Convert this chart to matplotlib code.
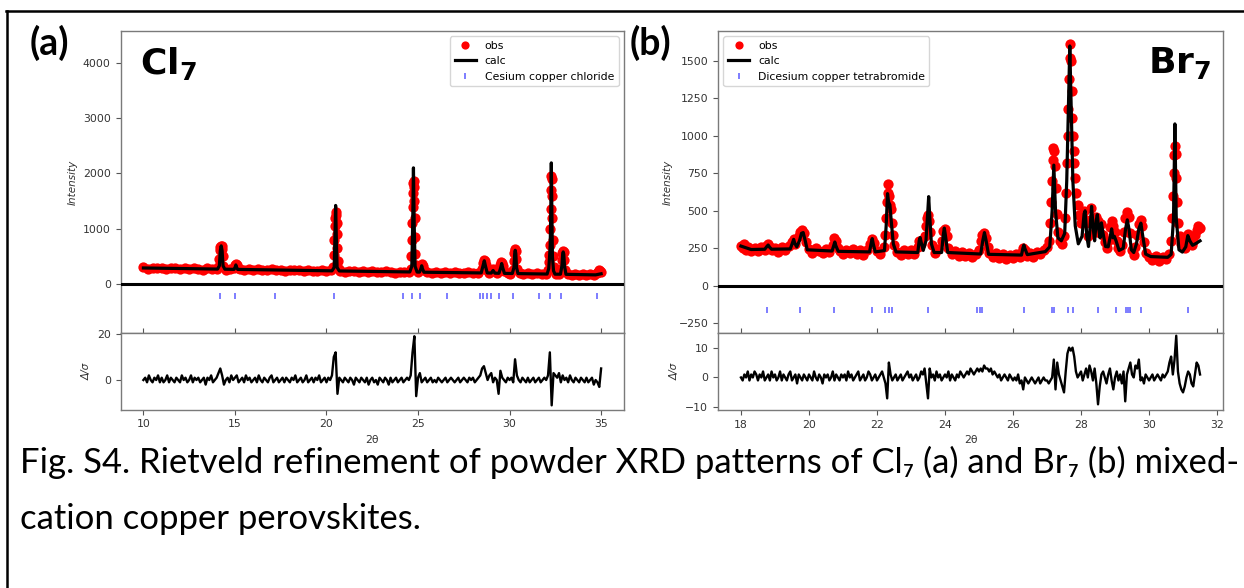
import numpy as np
import matplotlib
matplotlib.use("Agg")
import matplotlib.pyplot as plt
from matplotlib.lines import Line2D

# ---------------- (a) Cl7 ----------------
# observed points (2theta, counts)
cl_obs = [
    (10.00, 300), (10.25, 275), (10.50, 296), (10.75, 281), (11.00, 292), (11.25, 270),
    (11.50, 289), (11.75, 298), (12.00, 276), (12.25, 287), (12.50, 266), (12.75, 290),
    (13.00, 279), (13.25, 262), (13.50, 284), (13.75, 271), (14.00, 280),
    (14.10, 300), (14.15, 450), (14.18, 620), (14.21, 670), (14.24, 690), (14.27, 680),
    (14.30, 640), (14.33, 500), (14.37, 330),
    (14.50, 262), (14.75, 279), (14.95, 290), (15.00, 340), (15.05, 370), (15.10, 345), (15.15, 285),
    (15.25, 270), (15.50, 256), (15.75, 275), (16.00, 251), (16.25, 268), (16.50, 262),
    (16.75, 245), (17.00, 266), (17.25, 262), (17.50, 250), (17.75, 241), (18.00, 258),
    (18.25, 246), (18.50, 262), (18.75, 237), (19.00, 251), (19.25, 244), (19.50, 232),
    (19.75, 250), (20.00, 229), (20.25, 247),
    (20.36, 300), (20.40, 520), (20.43, 800), (20.45, 1050), (20.47, 1200), (20.50, 1300),
    (20.53, 1250), (20.55, 1100), (20.57, 900), (20.59, 650), (20.62, 420), (20.66, 280),
    (20.75, 240), (21.00, 224), (21.25, 241), (21.50, 229), (21.75, 220), (22.00, 238),
    (22.25, 215), (22.50, 232), (22.75, 226), (23.00, 212), (23.25, 230), (23.50, 218),
    (23.75, 205), (24.00, 226), (24.25, 214), (24.50, 222),
    (24.60, 280), (24.64, 500), (24.66, 800), (24.68, 1100), (24.70, 1400), (24.72, 1650),
    (24.74, 1820), (24.76, 1870), (24.78, 1750), (24.80, 1500), (24.82, 1200), (24.84, 850),
    (24.86, 550), (24.89, 350),
    (25.00, 210), (25.10, 260), (25.15, 330), (25.20, 360), (25.25, 330), (25.30, 250),
    (25.50, 216), (25.75, 200), (26.00, 219), (26.25, 204), (26.50, 212), (26.75, 196),
    (27.00, 214), (27.25, 200), (27.50, 193), (27.75, 210), (28.00, 197), (28.25, 206),
    (28.50, 270), (28.55, 380), (28.60, 430), (28.65, 420), (28.70, 350), (28.75, 260),
    (28.90, 205), (29.05, 250), (29.10, 270), (29.15, 240), (29.30, 190),
    (29.45, 260), (29.50, 340), (29.55, 390), (29.60, 380), (29.65, 320), (29.70, 240),
    (29.90, 200), (30.05, 186),
    (30.18, 260), (30.22, 420), (30.25, 560), (30.28, 620), (30.31, 630), (30.34, 590),
    (30.37, 450), (30.41, 280),
    (30.55, 195), (30.75, 180), (31.00, 197), (31.25, 176), (31.50, 190), (31.75, 178), (32.00, 188),
    (32.10, 260), (32.14, 400), (32.17, 520), (32.20, 700), (32.22, 1000), (32.24, 1350),
    (32.26, 1700), (32.28, 1960), (32.30, 1900), (32.32, 1600), (32.34, 1200), (32.36, 800),
    (32.38, 500), (32.41, 300),
    (32.55, 180), (32.70, 174),
    (32.80, 280), (32.84, 440), (32.88, 560), (32.92, 590), (32.96, 570), (33.00, 430), (33.04, 260),
    (33.20, 178), (33.40, 165), (33.60, 182), (33.80, 160), (34.00, 176), (34.20, 164),
    (34.40, 178), (34.60, 168), (34.80, 190), (34.85, 220), (34.90, 255), (34.95, 235), (35.00, 210),
]

# calculated profile
cl_calc = [
    (10.00, 290), (14.05, 270), (14.15, 330), (14.20, 600), (14.25, 690), (14.30, 600),
    (14.35, 330), (14.45, 268), (14.95, 265), (15.02, 310), (15.05, 345), (15.08, 310),
    (15.15, 264), (20.30, 238), (20.42, 300), (20.46, 800), (20.50, 1420), (20.54, 800),
    (20.58, 300), (20.70, 236), (24.55, 218), (24.66, 320), (24.71, 1100), (24.75, 2100),
    (24.79, 1100), (24.84, 320), (24.95, 216), (25.08, 215), (25.16, 280), (25.20, 330),
    (25.24, 280), (25.32, 213), (28.45, 200), (28.55, 330), (28.62, 420), (28.68, 330),
    (28.78, 200), (29.00, 198), (29.10, 245), (29.20, 196), (29.42, 194), (29.52, 300),
    (29.57, 370), (29.62, 300), (29.72, 192), (30.15, 190), (30.24, 300), (30.28, 550),
    (30.31, 610), (30.34, 550), (30.38, 300), (30.46, 188), (32.05, 180), (32.14, 280),
    (32.19, 520), (32.22, 700), (32.25, 1300), (32.28, 2190), (32.31, 1300), (32.34, 500),
    (32.40, 240), (32.48, 178), (32.78, 177), (32.86, 330), (32.90, 540), (32.93, 580),
    (32.96, 540), (33.00, 330), (33.08, 175), (34.70, 165), (34.85, 175), (35.00, 185),
]

# Cesium copper chloride reflections
cl_refl = [14.17, 14.98, 17.19, 20.39, 24.19, 24.65, 25.13, 26.56, 28.38, 28.57, 28.77,
           28.97, 29.45, 30.20, 31.62, 32.19, 32.81, 34.80]

# difference curve (obs - calc)/sigma, 0.1 deg steps from 10
cl_diff_start, cl_diff_step = 10.0, 0.1
cl_diff = [
    0, 1, -1, 2, 0, -1, 1, 0, 2, -1,
    1, -1, 0, 2, -1, 1, 0, -1, 1, 0,
    -1, 2, 0, 1, -1, 0, 2, -1, 1, 0,
    1, -1, 0, 1, -2, 1, 0, 2, -1, 0,
    1, 3, 5, 2, -2, 0, 1, -1, 2, 0,
    1, 2, -1, 0, 1, -1, 2, 0, 1, -1,
    0, 1, -1, 2, 0, -1, 1, 0, -1, 1,
    2, -1, 0, 1, -1, 0, 1, -1, 1, 0,
    -1, 1, 0, 2, -1, 0, 1, -1, 0, 2,
    -1, 0, 1, -1, 1, 0, 2, -1, 0, 1,
    -1, 1, 0, 2, 10, 12, -6, 1, 0, -1,
    1, 0, -1, 1, 0, -2, 1, 0, -1, 1,
    0, -1, 1, -2, 0, 1, -1, 0, -2, 1,
    0, -1, 1, 0, -2, 1, -1, 0, 1, -1,
    0, 1, -1, 0, 1, 0, 2, 12, 19, -7,
    1, 3, -1, 0, 1, -1, 0, 1, -1, 0,
    -1, 1, 0, -1, 0, 1, -1, 0, 1, 0,
    -1, 0, 1, -1, 0, 1, 0, -1, 1, 0,
    1, -1, 0, 1, 2, 5, 6, 3, 0, 2,
    3, -1, 1, 0, -6, 4, 1, 0, -1, 1,
    0, 1, -1, 9, 2, 0, -1, 1, 0, -1,
    1, -1, 0, 1, -1, 0, 1, -1, 0, 1,
    0, 2, 12, -11, 3, 2, 1, 3, -1, 2,
    0, 1, -1, 2, 0, -1, 1, 0, -1, 1,
    0, -1, 1, -1, 0, 1, -2, 0, -1, -3,
    5,
]

# ---------------- (b) Br7 ----------------
br_obs = [
    (18.00, 265), (18.05, 250), (18.10, 278), (18.15, 241), (18.20, 262), (18.30, 235),
    (18.40, 255), (18.50, 232), (18.60, 258), (18.70, 240), (18.75, 268), (18.80, 282),
    (18.85, 260), (18.90, 238), (19.00, 251), (19.10, 228), (19.20, 259), (19.30, 242),
    (19.40, 265), (19.50, 290), (19.55, 312), (19.60, 280), (19.70, 330), (19.75, 362),
    (19.80, 375), (19.85, 352), (19.90, 290), (20.00, 245), (20.10, 222), (20.20, 250),
    (20.30, 231), (20.40, 218), (20.50, 246), (20.60, 226), (20.70, 275), (20.75, 318),
    (20.80, 300), (20.85, 255), (20.90, 232), (21.00, 212), (21.10, 240), (21.20, 220),
    (21.30, 248), (21.40, 215), (21.50, 236), (21.60, 208), (21.70, 242), (21.80, 280),
    (21.85, 310), (21.90, 285), (22.00, 230), (22.10, 215), (22.20, 260), (22.24, 340),
    (22.27, 450), (22.29, 560), (22.31, 620), (22.33, 680), (22.35, 600), (22.37, 540),
    (22.40, 510), (22.43, 420), (22.46, 340), (22.50, 270), (22.60, 228), (22.70, 205),
    (22.80, 236), (22.90, 214), (23.00, 240), (23.10, 210), (23.20, 262), (23.25, 300),
    (23.30, 280), (23.40, 330), (23.45, 400), (23.48, 450), (23.51, 470), (23.54, 430),
    (23.57, 360), (23.62, 270), (23.70, 220), (23.80, 245), (23.90, 300), (23.95, 365),
    (24.00, 380), (24.05, 330), (24.10, 250), (24.20, 210), (24.30, 232), (24.40, 200),
    (24.50, 225), (24.60, 198), (24.70, 220), (24.80, 190), (24.90, 215), (25.00, 240),
    (25.05, 300), (25.10, 340), (25.15, 352), (25.20, 320), (25.25, 262), (25.30, 220),
    (25.40, 195), (25.50, 222), (25.60, 186), (25.70, 210), (25.80, 180), (25.90, 205),
    (26.00, 185), (26.10, 212), (26.20, 190), (26.25, 225), (26.30, 255), (26.35, 240),
    (26.40, 200), (26.50, 218), (26.60, 195), (26.70, 228), (26.80, 210), (26.90, 242),
    (27.00, 260), (27.05, 300), (27.10, 420), (27.13, 560), (27.15, 700), (27.17, 840),
    (27.19, 920), (27.21, 900), (27.23, 800), (27.25, 650), (27.28, 480), (27.32, 360),
    (27.38, 300), (27.45, 280), (27.50, 330), (27.54, 450), (27.57, 620), (27.59, 820),
    (27.61, 1000), (27.63, 1180), (27.65, 1380), (27.67, 1520), (27.68, 1610), (27.70, 1500),
    (27.72, 1300), (27.74, 1120), (27.76, 1000), (27.78, 900), (27.80, 820), (27.83, 720),
    (27.86, 620), (27.90, 540), (27.95, 470), (28.00, 420), (28.05, 450), (28.10, 500),
    (28.15, 420), (28.20, 330), (28.25, 440), (28.30, 520), (28.35, 430), (28.40, 360),
    (28.45, 460), (28.50, 430), (28.55, 350), (28.60, 410), (28.65, 340), (28.70, 290),
    (28.75, 250), (28.80, 300), (28.85, 390), (28.90, 430), (28.95, 400), (29.00, 360),
    (29.05, 300), (29.10, 250), (29.15, 235), (29.20, 270), (29.25, 360), (29.30, 450),
    (29.35, 490), (29.40, 460), (29.45, 350), (29.50, 240), (29.55, 205), (29.60, 260),
    (29.65, 340), (29.70, 410), (29.75, 440), (29.80, 400), (29.85, 290), (29.90, 220),
    (30.00, 195), (30.10, 175), (30.20, 200), (30.30, 168), (30.40, 192), (30.50, 178),
    (30.60, 210), (30.65, 300), (30.68, 450), (30.70, 600), (30.72, 750), (30.74, 870),
    (30.76, 930), (30.78, 880), (30.80, 720), (30.82, 560), (30.85, 420), (30.90, 330),
    (30.95, 280), (31.00, 320), (31.05, 250), (31.10, 300), (31.15, 345), (31.20, 310),
    (31.25, 270), (31.30, 300), (31.35, 340), (31.40, 370), (31.45, 400), (31.50, 385),
]

br_calc = [
    (18.00, 265), (18.30, 242), (18.70, 244), (18.76, 262), (18.80, 272), (18.84, 258),
    (18.90, 244), (19.45, 246), (19.52, 290), (19.55, 310), (19.58, 285), (19.64, 260),
    (19.72, 300), (19.78, 350), (19.83, 355), (19.88, 310), (19.95, 240), (20.68, 232),
    (20.73, 270), (20.76, 292), (20.79, 268), (20.86, 230), (21.78, 226), (21.83, 285),
    (21.86, 315), (21.89, 280), (21.95, 226), (22.22, 235), (22.27, 400), (22.31, 615),
    (22.34, 560), (22.38, 540), (22.42, 430), (22.48, 280), (22.56, 226), (23.20, 222),
    (23.24, 300), (23.27, 322), (23.30, 290), (23.36, 236), (23.44, 300), (23.49, 480),
    (23.52, 595), (23.55, 470), (23.60, 280), (23.68, 222), (23.90, 222), (23.95, 340),
    (23.98, 385), (24.01, 340), (24.08, 222), (25.05, 212), (25.11, 300), (25.16, 355),
    (25.21, 300), (25.28, 210), (26.25, 205), (26.29, 250), (26.32, 272), (26.35, 248),
    (26.42, 208), (26.95, 228), (27.08, 260), (27.15, 500), (27.20, 805), (27.25, 500),
    (27.32, 320), (27.42, 300), (27.52, 350), (27.58, 700), (27.63, 1200), (27.67, 1600),
    (27.71, 1200), (27.76, 700), (27.83, 400), (27.92, 280), (28.03, 330), (28.09, 480),
    (28.12, 500), (28.17, 330), (28.22, 262), (28.27, 400), (28.31, 530), (28.36, 380),
    (28.40, 300), (28.45, 440), (28.48, 475), (28.52, 380), (28.56, 320), (28.60, 420),
    (28.64, 360), (28.72, 262), (28.80, 260), (28.86, 330), (28.90, 380), (28.94, 320),
    (28.98, 330), (29.03, 300), (29.12, 236), (29.24, 250), (29.31, 380), (29.36, 440),
    (29.41, 380), (29.48, 240), (29.55, 222), (29.63, 280), (29.70, 380), (29.76, 418),
    (29.81, 340), (29.90, 212), (30.05, 195), (30.55, 190), (30.65, 210), (30.72, 450),
    (30.76, 1080), (30.80, 450), (30.88, 240), (30.98, 225), (31.08, 260), (31.14, 335),
    (31.20, 300), (31.28, 270), (31.40, 285), (31.50, 300),
]

# Dicesium copper tetrabromide reflections
br_refl = [18.76, 19.74, 20.74, 21.85, 22.25, 22.35, 22.44, 23.49, 24.95, 25.02, 25.09,
           26.32, 27.16, 27.20, 27.63, 27.76, 28.49, 29.02, 29.33, 29.39, 29.45, 29.77, 31.15]

br_diff_start, br_diff_step = 18.0, 0.05
br_diff = [
    0, -1, 1, 0, 2, -1, 1, 0, 2, 1, -1, 1, 0, 2, -1, 0, 1, -1, 2, 0,
    1, -1, 0, 2, -1, 1, 0, -1, 1, 2, -1, 0, 1, -2, 1, 0, -1, 1, 0, -1,
    1, 0, -1, 2, 0, -1, 1, 0, -2, 1, 0, 1, -1, 0, 2, -1, 1, 0, -1, 1,
    0, 1, -1, 2, 0, 1, -1, 0, 1, 2, -1, 0, 1, -1, 0, 2, 1, -1, 0, 1,
    -1, 0, 1, 2, 0, -2, -7, 5, 1, -1, 0, 1, -1, 0, 1, -1, 0, 1, 2, 0,
    1, -1, 0, 1, -1, 0, 2, 1, 3, -2, -7, 3, 0, 1, -1, 2, 0, 1, -1, 0,
    1, 0, 2, -1, 1, 0, -1, 1, 0, 2, 1, 0, 1, 2, 1, 3, 2, 1, 2, 3,
    2, 3, 2, 4, 3, 3, 2, 3, 1, 2, 1, 0, 1, -1, 0, 1, 0, -1, 1, 0,
    -1, 0, -1, 1, -2, -1, -4, 0, -1, -2, -1, 0, -1, -2, -1, 0, -2, -1, 0, -1,
    -1, -2, -1, 0, 6, -4, 5, 1, -1, -3, -5, 2, 8, 10, 9, 10, 7, 2, 0, 1,
    2, -1, 1, 3, 0, 4, 2, -1, 3, -2, -9, -3, 1, 2, 0, -2, 1, 3, -1, -4,
    0, 2, -1, 1, -2, 2, -8, 1, 3, 5, 1, 0, 4, 3, 6, -1, 0, -2, 1, 0,
    -1, 0, 1, -1, 0, 1, 0, -1, 1, 0, 1, 2, 5, 7, 1, 6, 14, 2, -2, -4,
    -5, -3, 0, 2, 1, -2, -3, 1, 5, 4, 1,
]

W, H = 1244, 588
plt.rcParams["font.family"] = "DejaVu Sans"
plt.rcParams["mathtext.fontset"] = "dejavusans"

fig = plt.figure(figsize=(W / 100, H / 100), dpi=100)


def box(x0, y0, x1, y1):
    # pixel box (top-left origin) -> figure fraction
    return [x0 / W, 1 - y1 / H, (x1 - x0) / W, (y1 - y0) / H]


def style(ax):
    for s in ax.spines.values():
        s.set_color("#7a7a7a")
        s.set_linewidth(1.0)
    ax.tick_params(labelsize=7.8, labelcolor="#333333", color="#555555",
                   length=3.5, width=0.8)


def draw(ax, axr, obs, calc, refl, d0, dstep, diff, phase, loc):
    o = np.array(obs, dtype=float)
    c = np.array(calc, dtype=float)
    ax.plot(o[:, 0], o[:, 1], "o", color="#ff0000", ms=7.4, mew=0, label="obs", zorder=2)
    ax.plot(c[:, 0], c[:, 1], color="black", lw=2.3, label="calc", zorder=3)
    ax.plot(refl, np.full(len(refl), -0.1 * c[:, 1].max()), "|", color="#5a5aff",
            ms=5, mew=1.1, label=phase, zorder=3)
    ax.axhline(0, color="black", lw=2.2, zorder=4)
    ax.legend(loc=loc, fontsize=7.8, handlelength=2.0, borderaxespad=0.5, markerscale=0.8)
    ax.set_ylabel("Intensity", fontsize=7.5, style="italic", color="#333333")

    d = np.asarray(diff, dtype=float)
    x = d0 + dstep * np.arange(d.size)
    axr.plot(x, d, color="black", lw=1.7)
    axr.set_ylabel("Δ/σ", fontsize=7.5, style="italic", color="#333333")
    axr.set_xlabel("2θ", fontsize=7.8, color="#333333")
    style(ax)
    style(axr)
    ax.tick_params(axis="x", direction="in", labelbottom=False)


# (a)
ax_a = fig.add_axes(box(120.5, 31, 624, 333))
ax_ar = fig.add_axes(box(120.5, 333, 624, 409.5))
draw(ax_a, ax_ar, cl_obs, cl_calc, cl_refl, cl_diff_start, cl_diff_step, cl_diff,
     "Cesium copper chloride", "upper right")
for a in (ax_a, ax_ar):
    a.set_xlim(8.75, 36.25)
    a.set_xticks([10, 15, 20, 25, 30, 35])
ax_a.set_ylim(-886, 4575)
ax_a.set_yticks([0, 1000, 2000, 3000, 4000])
ax_ar.set_ylim(-12.8, 20.4)
ax_ar.set_yticks([0, 20])

# (b)
ax_b = fig.add_axes(box(718, 31, 1223, 333))
ax_br = fig.add_axes(box(718, 333, 1223, 410))
draw(ax_b, ax_br, br_obs, br_calc, br_refl, br_diff_start, br_diff_step, br_diff,
     "Dicesium copper tetrabromide", "upper left")
for a in (ax_b, ax_br):
    a.set_xlim(17.325, 32.175)
    a.set_xticks(range(18, 33, 2))
ax_b.set_ylim(-315, 1700)
ax_b.set_yticks([-250, 0, 250, 500, 750, 1000, 1250, 1500])
ax_br.set_ylim(-10.9, 14.9)
ax_br.set_yticks([-10, 0, 10])

# panel letters and sample names
fig.text(30 / W, 1 - 43 / H, "(a)", fontsize=27, fontweight="bold",
         family=["Lato", "DejaVu Sans"], va="center", ha="left")
fig.text(630 / W, 1 - 43 / H, "(b)", fontsize=27, fontweight="bold",
         family=["Lato", "DejaVu Sans"], va="center", ha="left")
fig.text(140 / W, 1 - 74 / H, r"$\mathbf{Cl}_{\mathbf{7}}$", fontsize=26,
         va="baseline", ha="left")
fig.text(1148 / W, 1 - 73 / H, r"$\mathbf{Br}_{\mathbf{7}}$", fontsize=26,
         va="baseline", ha="left")

# caption
cap_font = ["Lato", "DejaVu Sans"]
fig.text(20 / W, 1 - 473 / H,
         "Fig. S4. Rietveld refinement of powder XRD patterns of Cl\u2087 (a) and Br\u2087 (b) mixed-",
         fontsize=24.9, family=cap_font, va="baseline", ha="left")
fig.text(20 / W, 1 - 529 / H, "cation copper perovskites.",
         fontsize=24.9, family=cap_font, va="baseline", ha="left")

# page frame (top and left edges)
fig.add_artist(Line2D([6 / W, 1], [1 - 10.5 / H, 1 - 10.5 / H], color="black", lw=1.8))
fig.add_artist(Line2D([7.4 / W, 7.4 / W], [0, 1 - 10.5 / H], color="black", lw=1.8))

fig.savefig("out.png", dpi=100)
